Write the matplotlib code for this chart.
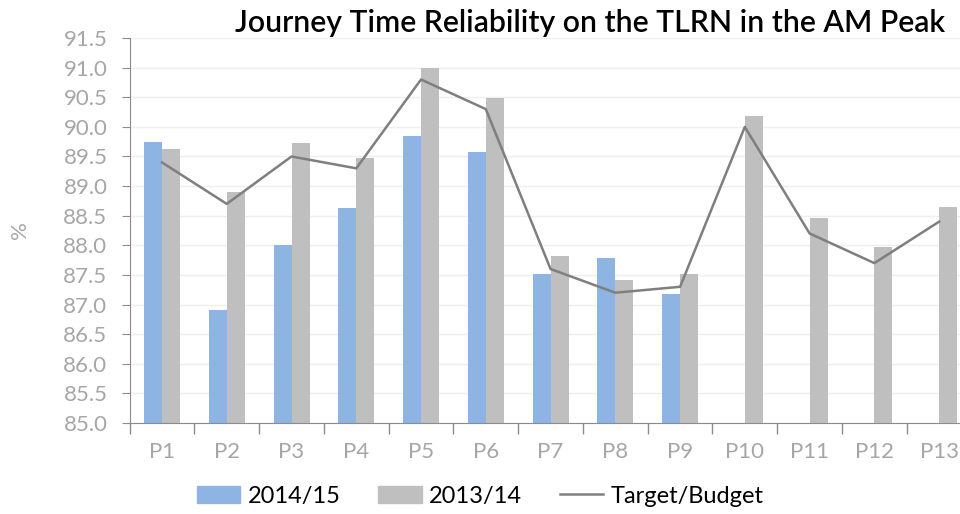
import matplotlib.pyplot as plt
from matplotlib.lines import Line2D
from matplotlib.patches import Patch
import numpy as np

periods = ["P1", "P2", "P3", "P4", "P5", "P6", "P7", "P8", "P9", "P10", "P11", "P12", "P13"]
y2014 = [89.75, 86.9, 88.0, 88.63, 89.85, 89.57, 87.52, 87.78, 87.17]
y2013 = [89.62, 88.9, 89.72, 89.48, 91.0, 90.48, 87.82, 87.42, 87.52, 90.18, 88.46, 87.97, 88.65]
target = [89.4, 88.7, 89.5, 89.3, 90.8, 90.3, 87.6, 87.2, 87.3, 90.0, 88.2, 87.7, 88.4]
yticks = [85.0 + 0.5 * i for i in range(14)]

BLUE = "#8EB4E3"
GREY = "#BFBFBF"
LINE = "#7F7F7F"
AXIS = "#8C8C8C"
LABEL = "#A6A6A6"

plt.rcParams['font.family'] = ['Lato', 'DejaVu Sans']

fig = plt.figure(figsize=(9.6, 5.14), dpi=100)
ax = fig.add_axes([0.135, 0.177, 0.877, 0.749])

x = np.arange(len(periods))
w = 0.278
ax.bar(x[:len(y2014)] - w / 2, [v - 85 for v in y2014], w, bottom=85, color=BLUE, zorder=2)
ax.bar(x + w / 2, [v - 85 for v in y2013], w, bottom=85, color=GREY, zorder=2)
ax.plot(x, target, color=LINE, lw=1.8, zorder=3)

ax.set_xlim(-0.5, len(periods) - 0.5)
ax.set_ylim(85, 91.5)
ax.set_yticks(yticks)
ax.set_yticklabels([f"{v:.1f}" for v in yticks])
ax.grid(axis='y', color="#EFEFEF", lw=1, zorder=0)
ax.set_axisbelow(True)

ax.set_xticks(x)
ax.set_xticklabels(periods)
ax.set_xticks(np.arange(-0.5, len(periods)), minor=True)
ax.tick_params(axis='x', which='major', length=0, pad=14, labelsize=16, labelcolor=LABEL)
ax.tick_params(axis='x', which='minor', length=8, color=AXIS, width=1)
ax.tick_params(axis='y', length=6, color=AXIS, labelsize=16, labelcolor=LABEL, pad=10)

for s in ['top', 'right']:
    ax.spines[s].set_visible(False)
for s in ['left', 'bottom']:
    ax.spines[s].set_color(AXIS)

ax.set_ylabel("%", color=LABEL, fontsize=16, labelpad=24)

# title sits top right, slightly heavier than regular
fig.text(0.985, 0.955, "Journey Time Reliability on the TLRN in the AM Peak",
         ha='right', va='center', fontsize=21.7, fontweight='semibold', color='black')

handles = [Patch(color=BLUE), Patch(color=GREY), Line2D([0], [0], color=LINE, lw=1.8)]
fig.legend(handles, ["2014/15", "2013/14", "Target/Budget"], loc='center',
           bbox_to_anchor=(0.5, 0.035), ncol=3, frameon=False, fontsize=17,
           handlelength=1.85, handletextpad=0.3, columnspacing=1.6)

fig.savefig("out.png", dpi=100)
